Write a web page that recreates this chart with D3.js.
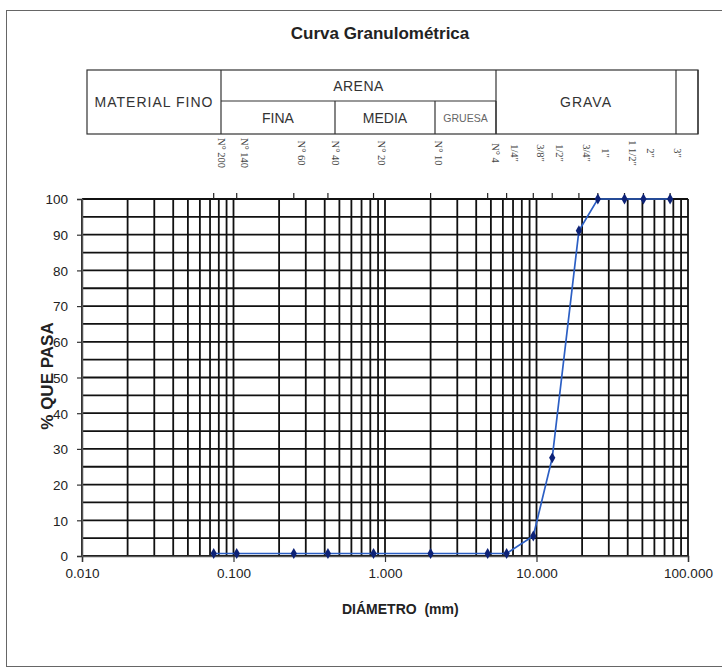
<!DOCTYPE html>
<html>
<head>
<meta charset="utf-8">
<script src="https://cdn.jsdelivr.net/npm/d3@7"></script>
<style>
  body { margin: 0; background: #fff; }
  text { font-family: "Liberation Sans", Arial, sans-serif; fill: #222; }
</style>
</head>
<body>
<div id="chart"></div>
<script>
// sieve openings (mm), their names and the % passing
var sieveLabels = ["N° 200", "N° 140", "N° 60", "N° 40", "N° 20", "N° 10", "N° 4",
                   "1/4\"", "3/8\"", "1/2\"", "3/4\"", "1\"", "1 1/2\"", "2\"", "3\""];
var sieveSizes = [0.074, 0.105, 0.25, 0.42, 0.84, 2.0, 4.76,
                  6.35, 9.525, 12.7, 19.05, 25.4, 38.1, 50.8, 76.2];
var percentPassing = [0.7, 0.7, 0.7, 0.7, 0.7, 0.7, 0.7,
                      0.7, 5.6, 27.5, 91.1, 100, 100, 100, 100];

var xTickValues = [0.01, 0.1, 1, 10, 100];
var yTickValues = [0, 10, 20, 30, 40, 50, 60, 70, 80, 90, 100];
var yGridValues = d3.range(0, 101, 5);

// header table cells
var topCells = [
  {name: "MATERIAL FINO", from: "l0", to: "l1", rows: 2},
  {name: "ARENA", from: "l1", to: "l4", rows: 1},
  {name: "GRAVA", from: "l4", to: "l5", rows: 2},
  {name: "", from: "l5", to: "l6", rows: 2}
];
var subCells = [
  {name: "FINA", from: "l1", to: "l2", size: 14},
  {name: "MEDIA", from: "l2", to: "l3", size: 14},
  {name: "GRUESA", from: "l3", to: "l4", size: 10.5}
];

var W = 722, H = 669;
var margin = {top: 199, right: 34, bottom: 113, left: 82},
    width = 688 - margin.left,
    height = 556 - margin.top;

var svg = d3.select("#chart")
  .append("svg")
    .attr("width", W)
    .attr("height", H);

// outer frame
svg.append("rect")
  .attr("x", 6.5).attr("y", 10.5)
  .attr("width", 760).attr("height", 656)
  .attr("fill", "#fff")
  .attr("stroke", "#666")
  .attr("stroke-width", 1);

svg.append("text")
  .attr("x", 380).attr("y", 39)
  .attr("text-anchor", "middle")
  .style("font-family", "'Liberation Sans Narrow', 'Liberation Sans', sans-serif")
  .style("font-weight", "bold")
  .style("font-size", "17px")
  .text("Curva Granulométrica");

// table (pixel columns of the header grid)
var cols = {l0: 87, l1: 221, l2: 335, l3: 435, l4: 496, l5: 676, l6: 698};
var tTop = 70, tMid = 101, tBot = 134;
var table = svg.append("g");

table.append("rect")
  .attr("x", cols.l0).attr("y", tTop)
  .attr("width", cols.l6 - cols.l0).attr("height", tBot - tTop)
  .attr("fill", "none").attr("stroke", "#333").attr("stroke-width", 1.2);

topCells.forEach(function(c) {
  table.append("line")
    .attr("x1", cols[c.to]).attr("x2", cols[c.to])
    .attr("y1", tTop).attr("y2", tBot)
    .attr("stroke", "#333").attr("stroke-width", 1.2);
  table.append("text")
    .attr("x", (cols[c.from] + cols[c.to]) / 2)
    .attr("y", c.rows == 2 ? (tTop + tBot) / 2 + 5 : (tTop + tMid) / 2 + 5)
    .attr("text-anchor", "middle")
    .style("font-size", "14px")
    .style("letter-spacing", c.name == "ARENA" ? "0.5px" : "1px")
    .style("fill", "#333")
    .text(c.name);
});
table.append("line")
  .attr("x1", cols.l1).attr("x2", cols.l4)
  .attr("y1", tMid).attr("y2", tMid)
  .attr("stroke", "#333").attr("stroke-width", 1.2);
subCells.forEach(function(c) {
  table.append("line")
    .attr("x1", cols[c.to]).attr("x2", cols[c.to])
    .attr("y1", tMid).attr("y2", tBot)
    .attr("stroke", "#333").attr("stroke-width", 1.2);
  table.append("text")
    .attr("x", (cols[c.from] + cols[c.to]) / 2)
    .attr("y", (tMid + tBot) / 2 + (c.size > 12 ? 5 : 4))
    .attr("text-anchor", "middle")
    .style("font-size", c.size + "px")
    .style("fill", c.size > 12 ? "#333" : "#666")
    .text(c.name);
});

var g = svg.append("g")
  .attr("transform", "translate(" + margin.left + "," + margin.top + ")");

var x = d3.scaleLog().domain([0.01, 100]).range([0, width]);
var y = d3.scaleLinear().domain([0, 100]).range([height, 0]);

// grid
g.append("g")
  .selectAll("line")
  .data(x.ticks())
  .join("line")
    .attr("x1", function(d) { return x(d); })
    .attr("x2", function(d) { return x(d); })
    .attr("y1", 0).attr("y2", height)
    .attr("stroke", "#111").attr("stroke-width", 1.8);

g.append("g")
  .selectAll("line")
  .data(yGridValues)
  .join("line")
    .attr("x1", 0).attr("x2", width)
    .attr("y1", function(d) { return y(d); })
    .attr("y2", function(d) { return y(d); })
    .attr("stroke", "#111").attr("stroke-width", 1.8);

// axes
var xAxis = g.append("g")
  .attr("transform", "translate(0," + height + ")")
  .call(d3.axisBottom(x).tickValues(xTickValues).tickFormat(d3.format(".3f"))
        .tickSize(6).tickPadding(6));
var yAxis = g.append("g")
  .call(d3.axisLeft(y).tickValues(yTickValues).tickSize(5).tickPadding(9));

[xAxis, yAxis].forEach(function(a) {
  a.select(".domain").attr("stroke", "#555").attr("stroke-width", 1.5);
  a.selectAll(".tick line").attr("stroke", "#333").attr("stroke-width", 1.2);
  a.selectAll(".tick text")
    .style("font-family", "'Liberation Sans', Arial, sans-serif")
    .style("font-size", "13.5px")
    .attr("fill", "#333");
});
yAxis.selectAll(".tick text").attr("dy", "0.36em");

// sieve ticks on top edge
g.append("g")
  .selectAll("line")
  .data(sieveSizes)
  .join("line")
    .attr("x1", function(d) { return x(d); })
    .attr("x2", function(d) { return x(d); })
    .attr("y1", -6).attr("y2", 0)
    .attr("stroke", "#222").attr("stroke-width", 1.2);

// sieve names, rotated
g.append("g")
  .selectAll("text")
  .data(sieveSizes)
  .join("text")
    .attr("transform", function(d) {
      return "translate(" + (x(d) + 4) + "," + (-46) + ") rotate(90)";
    })
    .attr("text-anchor", "middle")
    .style("font-family", "'Liberation Serif', serif")
    .style("font-size", "10.5px")
    .style("fill", "#444")
    .text(function(d, i) { return sieveLabels[i]; });

// curve
var pts = sieveSizes.map(function(d, i) { return [d, percentPassing[i]]; });

g.append("path")
  .datum(pts)
  .attr("fill", "none")
  .attr("stroke", "#2c5fc4")
  .attr("stroke-width", 1.7)
  .attr("d", d3.line()
      .x(function(d) { return x(d[0]); })
      .y(function(d) { return y(d[1]); }));

g.append("g")
  .selectAll("path")
  .data(pts)
  .join("path")
    .attr("transform", function(d) { return "translate(" + x(d[0]) + "," + y(d[1]) + ")"; })
    .attr("d", d3.symbol().type(d3.symbolDiamond).size(34))
    .attr("fill", "#0d2277");

// axis titles
svg.append("text")
  .attr("transform", "translate(53,376) rotate(-90)")
  .attr("text-anchor", "middle")
  .style("font-weight", "bold")
  .style("font-size", "17px")
  .text("% QUE PASA");

svg.append("text")
  .attr("x", 342).attr("y", 614)
  .style("font-weight", "bold")
  .style("font-size", "14px")
  .style("white-space", "pre")
  .text("DIÁMETRO  (mm)");
</script>
</body>
</html>
